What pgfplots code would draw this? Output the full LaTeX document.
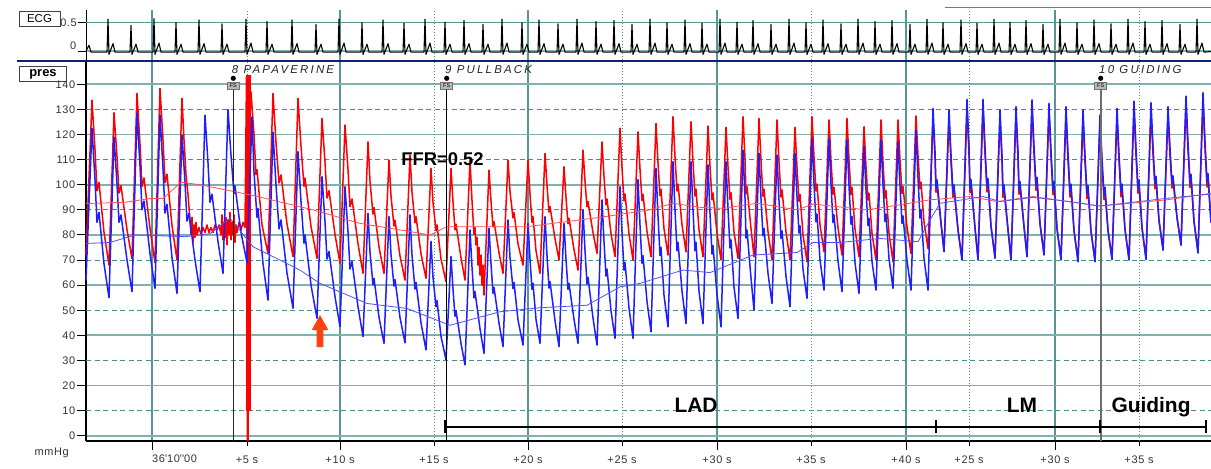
\documentclass[border=0pt]{standalone}
\usepackage{fontspec}
\setmainfont{Liberation Sans}
\newfontfamily\annfont{Liberation Sans}[LetterSpace=19]
\newfontfamily\tickfamily{Liberation Sans}[LetterSpace=6]
\usepackage{pgfplots}
\pgfplotsset{compat=1.18}

\definecolor{gridA}{RGB}{128,176,176}
\definecolor{gridB}{RGB}{72,142,142}
\definecolor{gridV}{RGB}{88,150,150}
\definecolor{paRed}{RGB}{255,0,0}
\definecolor{pdBlue}{RGB}{30,30,255}
\definecolor{meanRed}{RGB}{255,80,80}
\definecolor{meanBlue}{RGB}{80,80,255}
\definecolor{sep}{RGB}{16,32,120}
\definecolor{arrowc}{RGB}{255,64,16}
\definecolor{guide}{RGB}{110,110,110}

\newcommand{\tickfont}{\tickfamily\fontsize{11}{12}\selectfont}

\begin{document}
\begin{tikzpicture}
\useasboundingbox (0,0) rectangle (1211bp,-469bp);

% ---------------- ECG strip ----------------
\begin{axis}[
  at={(86bp,-60bp)}, anchor=south west, scale only axis,
  width=1125bp, height=50bp,
  xmin=86, xmax=1211, ymin=-0.159, ymax=0.724,
  axis lines*=left, x axis line style={draw=none},
  y axis line style={black, line width=1bp},
  clip=false, no markers,
  tick align=outside, major tick length=8bp,
  xtick={152,340,528,717,906,1055}, xticklabels={{},{},{},{},{},{}},
  extra x ticks={247,434,622,811,969,1139},
  extra x tick labels={{},{},{},{},{},{}},
  extra x tick style={grid=major,
    major x grid style={gridB, line width=1bp, dash pattern=on 1.4bp off 1.6bp}},
  xtick style={draw=none},
  ytick={0}, yticklabels={{}},
  extra y ticks={0.5}, extra y tick labels={{}},
  extra y tick style={grid=major, major y grid style={gridV, line width=1bp}},
  ytick style={black, line width=0.9bp},
  grid=major,
  major x grid style={gridV, line width=1.2bp},
  major y grid style={gridA, line width=1.7bp},
]
\addplot[black, line width=1.1bp, line join=round] coordinates {
(86,0.0) (89,0.1) (91,-0.02)
(107,-0.02) (108,0.56) (109,-0.06) (113,0.13) (115,-0.02)
(130,-0.02) (131,0.45) (132,-0.06) (136,0.12) (138,-0.02)
(153,-0.02) (154,0.57) (155,-0.06) (159,0.14) (161,-0.02)
(175,-0.02) (176,0.50) (177,-0.06) (181,0.12) (183,-0.02)
(198,-0.02) (199,0.55) (200,-0.06) (204,0.13) (206,-0.02)
(221,-0.02) (222,0.48) (223,-0.06) (227,0.12) (229,-0.02)
(245,-0.02) (246,0.56) (247,-0.06) (251,0.14) (253,-0.02)
(266,-0.02) (267,0.52) (268,-0.06) (272,0.12) (274,-0.02)
(291,-0.02) (292,0.55) (293,-0.06) (297,0.13) (299,-0.02)
(315,-0.02) (316,0.47) (317,-0.06) (321,0.12) (323,-0.02)
(338,-0.02) (339,0.56) (340,-0.06) (344,0.14) (346,-0.02)
(361,-0.02) (362,0.50) (363,-0.06) (367,0.12) (369,-0.02)
(382,-0.02) (383,0.55) (384,-0.06) (388,0.13) (390,-0.02)
(403,-0.02) (404,0.49) (405,-0.06) (409,0.12) (411,-0.02)
(424,-0.02) (425,0.56) (426,-0.06) (430,0.14) (432,-0.02)
(444,-0.02) (445,0.51) (446,-0.06) (450,0.12) (452,-0.02)
(463,-0.02) (464,0.54) (465,-0.06) (469,0.13) (471,-0.02)
(482,-0.02) (483,0.47) (484,-0.06) (488,0.12) (490,-0.02)
(501,-0.02) (502,0.56) (503,-0.06) (507,0.14) (509,-0.02)
(521,-0.02) (522,0.50) (523,-0.06) (527,0.12) (529,-0.02)
(538,-0.02) (539,0.55) (540,-0.06) (544,0.13) (546,-0.02)
(557,-0.02) (558,0.48) (559,-0.06) (563,0.12) (565,-0.02)
(576,-0.02) (577,0.56) (578,-0.06) (582,0.14) (584,-0.02)
(595,-0.02) (596,0.52) (597,-0.06) (601,0.12) (603,-0.02)
(613,-0.02) (614,0.54) (615,-0.06) (619,0.13) (621,-0.02)
(631,-0.02) (632,0.47) (633,-0.06) (637,0.12) (639,-0.02)
(649,-0.02) (650,0.56) (651,-0.06) (655,0.14) (657,-0.02)
(666,-0.02) (667,0.50) (668,-0.06) (672,0.12) (674,-0.02)
(684,-0.02) (685,0.55) (686,-0.06) (690,0.13) (692,-0.02)
(701,-0.02) (702,0.49) (703,-0.06) (707,0.12) (709,-0.02)
(719,-0.02) (720,0.56) (721,-0.06) (725,0.14) (727,-0.02)
(736,-0.02) (737,0.51) (738,-0.06) (742,0.12) (744,-0.02)
(752,-0.02) (753,0.54) (754,-0.06) (758,0.13) (760,-0.02)
(770,-0.02) (771,0.47) (772,-0.06) (776,0.12) (778,-0.02)
(788,-0.02) (789,0.56) (790,-0.06) (794,0.14) (796,-0.02)
(805,-0.02) (806,0.50) (807,-0.06) (811,0.12) (813,-0.02)
(822,-0.02) (823,0.55) (824,-0.06) (828,0.13) (830,-0.02)
(840,-0.02) (841,0.48) (842,-0.06) (846,0.12) (848,-0.02)
(857,-0.02) (858,0.56) (859,-0.06) (863,0.14) (865,-0.02)
(874,-0.02) (875,0.52) (876,-0.06) (880,0.12) (882,-0.02)
(891,-0.02) (892,0.54) (893,-0.06) (897,0.13) (899,-0.02)
(909,-0.02) (910,0.47) (911,-0.06) (915,0.12) (917,-0.02)
(926,-0.02) (927,0.56) (928,-0.06) (932,0.14) (934,-0.02)
(942,-0.02) (943,0.50) (944,-0.06) (948,0.12) (950,-0.02)
(960,-0.02) (961,0.55) (962,-0.06) (966,0.13) (968,-0.02)
(976,-0.02) (977,0.49) (978,-0.06) (982,0.12) (984,-0.02)
(993,-0.02) (994,0.56) (995,-0.06) (999,0.14) (1001,-0.02)
(1009,-0.02) (1010,0.51) (1011,-0.06) (1015,0.12) (1017,-0.02)
(1025,-0.02) (1026,0.54) (1027,-0.06) (1031,0.13) (1033,-0.02)
(1042,-0.02) (1043,0.47) (1044,-0.06) (1048,0.12) (1050,-0.02)
(1059,-0.02) (1060,0.56) (1061,-0.06) (1065,0.14) (1067,-0.02)
(1076,-0.02) (1077,0.50) (1078,-0.06) (1082,0.12) (1084,-0.02)
(1093,-0.02) (1094,0.55) (1095,-0.06) (1099,0.13) (1101,-0.02)
(1110,-0.02) (1111,0.48) (1112,-0.06) (1116,0.12) (1118,-0.02)
(1127,-0.02) (1128,0.56) (1129,-0.06) (1133,0.14) (1135,-0.02)
(1144,-0.02) (1145,0.52) (1146,-0.06) (1150,0.12) (1152,-0.02)
(1161,-0.02) (1162,0.54) (1163,-0.06) (1167,0.13) (1169,-0.02)
(1179,-0.02) (1180,0.47) (1181,-0.06) (1185,0.12) (1187,-0.02)
(1196,-0.02) (1197,0.56) (1198,-0.06) (1202,0.14) (1204,-0.02)
(1211,-0.01)};
\end{axis}

% ---------------- pressure strip ----------------
\begin{axis}[
  at={(86bp,-441bp)}, anchor=south west, scale only axis,
  width=1125bp, height=379bp,
  xmin=86, xmax=1211, ymin=-2.1, ymax=148.9,
  axis lines*=left, axis line style={black, line width=1.1bp},
  clip=false, no markers,
  tick align=outside, major tick length=9bp, tick style={black, line width=0.9bp},
  xtick={152,340,528,717,906,1055},
  xticklabels={{},{+10 s},{+20 s},{+30 s},{+40 s},{+30 s}},
  extra x ticks={247,434,622,811,969,1139},
  extra x tick labels={{+5 s},{+15 s},{+25 s},{+35 s},{+25 s},{+35 s}},
  extra x tick style={grid=major, major tick length=5bp,
    xticklabel style={yshift=-4bp},
    major x grid style={gridB, line width=1bp, dash pattern=on 1.4bp off 1.6bp}},
  ytick={0,20,...,140},
  extra y ticks={10,30,...,130},
  extra y tick style={grid=major,
    major y grid style={gridB, line width=0.9bp, dash pattern=on 5bp off 3.5bp}},
  grid=major,
  major x grid style={gridV, line width=1.2bp},
  major y grid style={gridA, line width=1.7bp},
  tick label style={font=\tickfont, text=black!80},
  /pgf/number format/assume math mode=true,
  xticklabel style={yshift=-2.7bp},
  yticklabel style={inner sep=1.5bp},
]
% aortic pressure (Pa), red
\addplot[paRed, line width=1.5bp, line join=round] coordinates {
(86,72) (92,133.7) (95,114) (97,97.6) (99,100.9) (104,81.1)
(109,68) (114,128.7) (117,111.2) (119,96.7) (121,99.6) (127,82.1)
(132,70.5) (137,136.4) (140,116.2) (142,99.3) (144,102.7) (150,82.5)
(155,69) (160,138.4) (163,117.9) (165,100.8) (167,104.2) (172,83.7)
(177,70) (182,134.4) (184,118) (186,104) (188,96) (190,86)
(191,80) (192,87) (193,77) (194,84) (195,79) (196,85) (197,80) (199,83) (201,80)
(203,83) (205,81) (207,84) (209,81) (211,83) (213,81) (215,84) (217,82) (219,84)
(221,80) (222,88) (223,78) (224,85) (225,79) (226,87) (227,76) (228,86) (229,80)
(230,89) (231,78) (232,85) (233,80) (234,88) (235,77) (236,84) (237,81) (239,85)
(241,82) (243,85) (245,83)
(246.5,143) (247.5,-2) (249,120) (251,137) (254,120) (256,104) (257,106) (262,84)
(268,72.7) (273,136.4) (276,116.9) (279,100.7) (281,103.9) (287,84.4)
(293,71.4) (298,134.4) (301,115.3) (304,99.4) (305,102.6) (311,83.4)
(317,70.7) (322,126.4) (325,109.1) (327,94.7) (329,97.6) (335,80.2)
(340,68.7) (345,123.8) (348,106.1) (350,91.3) (352,94.3) (358,76.5)
(363,64.7) (368,117.1) (370,101.4) (373,88.3) (374,90.9) (379,75.2)
(384,64.7) (389,109.8) (391,95.5) (394,83.5) (395,85.9) (400,71.6)
(405,62) (410,111.8) (412,97.1) (415,84.8) (416,87.3) (421,72.5)
(426,62.7) (431,106.5) (433,93) (436,81.7) (437,84) (441,70.4)
(446,61.4) (451,106.5) (453,93.2) (455,82) (456,84.3) (461,70.9)
(465,62) (470,109.8) (472,93.7) (474,80.2) (475,82.9) (476,76) (477,79) (478,68)
(479,75) (480,64) (481,72) (482,60) (483,68)
(484,56) (489,105.8) (491,93.5) (493,83.2) (494,85.3) (499,72.9)
(503,64.7) (508,109.8) (510,97.3) (513,86.8) (514,88.9) (518,76.4)
(523,68) (528,109.8) (530,96.3) (532,85) (533,87.3) (536,73.7)
(540,64.7) (545,112.5) (547,99.8) (549,89.1) (550,91.3) (555,78.5)
(559,70) (564,107.2) (566,94.8) (568,84.5) (569,86.6) (574,74.2)
(578,66) (583,113.8) (585,101.5) (587,91.2) (588,93.3) (593,80.9)
(597,72.7) (602,117.1) (604,103.4) (606,92) (607,94.3) (611,80.5)
(615,71.4) (620,122.5) (622,106.8) (624,93.6) (625,96.3) (629,80.5)
(633,70) (638,121.1) (640,106.2) (642,93.7) (643,96.2) (647,81.3)
(651,71.3) (656,124.4) (658,108.7) (660,95.6) (661,98.2) (664,82.5)
(668,72) (673,127.1) (675,111) (677,97.5) (678,100.2) (682,84.1)
(686,73.3) (691,125.1) (693,109) (695,95.5) (696,98.2) (699,82.1)
(703,71.3) (708,123.4) (710,107.4) (712,94) (713,96.7) (717,80.7)
(721,70) (726,122.9) (728,107.2) (730,94.2) (731,96.8) (734,81.1)
(738,70.7) (743,127.1) (745,110.4) (746,96.4) (747,99.2) (751,82.5)
(754,71.3) (759,126.4) (761,109.5) (763,95.4) (764,98.2) (768,81.3)
(772,70) (777,125.8) (779,109.1) (781,95.1) (782,97.9) (786,81.2)
(790,70) (795,122.9) (797,106.8) (799,93.4) (800,96.1) (803,80)
(807,69.3) (812,127.1) (814,111) (816,97.5) (817,100.2) (820,84.1)
(824,73.3) (829,125.8) (831,109.7) (833,96.2) (834,98.9) (838,82.8)
(842,72) (847,126.4) (849,109.9) (851,96.1) (852,98.9) (855,82.3)
(859,71.3) (864,123.1) (866,107.2) (868,93.9) (869,96.6) (872,80.6)
(876,70) (881,125.8) (883,108.9) (885,94.7) (886,97.6) (889,80.6)
(893,69.3) (898,125.8) (900,109.8) (902,96.5) (903,99.2) (907,83.2)
(911,72.6) (916,127.4) (918,111.6) (920,98.4) (921,101) (924,85.2)
(928,74.6) (933,126.4) (935,110.3) (936,97) (937,99.9) (941,84.7)
(944,73.8) (949,125.8) (951,108.9) (953,94.9) (954,97.9) (958,82)
(962,70.5) (967,130) (969,111.8) (970,96.8) (971,100) (975,82.8)
(978,70.5) (983,130) (985,112) (987,97.2) (988,100.4) (991,83.4)
(995,71.2) (1000,125.8) (1002,108.9) (1003,94.9) (1004,97.9) (1008,82)
(1011,70.5) (1016,127.1) (1018,110.2) (1019,96.2) (1020,99.2) (1024,83.3)
(1027,71.8) (1032,129.8) (1034,112.3) (1036,97.8) (1037,100.9) (1040,84.4)
(1044,72.5) (1049,128.4) (1051,110.7) (1053,96.1) (1054,99.2) (1057,82.5)
(1061,70.5) (1066,127.1) (1068,109.6) (1070,95.1) (1071,98.2) (1074,81.7)
(1078,69.8) (1083,125.8) (1085,108.7) (1087,94.5) (1088,97.6) (1091,81.4)
(1095,69.8) (1100,123.8) (1102,107.5) (1104,94.1) (1105,97) (1108,81.7)
(1112,70.7) (1117,126.4) (1119,109.3) (1121,95.2) (1122,98.2) (1125,82.1)
(1129,70.5) (1134,129.3) (1136,111.4) (1138,96.6) (1139,99.8) (1142,82.8)
(1146,70.7) (1151,128.7) (1153,112.1) (1155,98.4) (1156,101.3) (1159,85.7)
(1163,74.4) (1168,127.1) (1170,111.5) (1172,98.7) (1173,101.5) (1177,86.9)
(1181,76.4) (1186,131.3) (1188,113.6) (1190,98.9) (1191,102.1) (1194,85.3)
(1198,73.3) (1203,132.7) (1205,114.3) (1207,99.1) (1208,102.4) (1211,84.9)};
% papaverine injection artefact
\addplot[paRed, line width=4.5bp] coordinates {(248.5,10) (248.5,143.7)};
\addplot[paRed, line width=2.5bp] coordinates {(247.8,-2) (247.8,12)};
% distal pressure (Pd), blue
\addplot[pdBlue, line width=1.5bp, line join=round] coordinates {
(86,62) (92,122.5) (95,102) (97,85) (99,89) (104,68.5)
(109,55) (114,119) (117,100.5) (119,85) (121,88) (127,70)
(132,57.4) (137,128.4) (140,107.5) (142,90) (144,93.5) (150,72.5)
(155,58.7) (160,127.7) (163,106.4) (165,88.7) (167,92.2) (172,71)
(177,56.7) (182,119.8) (185,101) (187,85.5) (189,88.6) (195,70)
(200,57.4) (205,127.7) (208,108.8) (210,93) (212,96.2) (218,77.3)
(223,64.7) (228,130) (231,111.7) (234,96.5) (235,99.5) (241,81)
(247,69) (252,127) (254,105) (257,87) (258,90.5) (263,68.6)
(268,54) (273,121) (276,100) (279,82.4) (281,86) (287,64.8)
(293,50.8) (298,113.2) (301,93.3) (304,76.7) (305,80) (311,60)
(317,46.8) (322,103.2) (325,85.3) (327,70.4) (329,73.4) (335,55.4)
(340,43.5) (345,99.2) (348,81.3) (350,66.4) (352,69.4) (358,51.4)
(363,39.5) (368,88.6) (370,73.1) (373,60.1) (374,62.7) (379,47.2)
(384,36.8) (389,87.3) (391,72.2) (394,59.6) (395,62.2) (400,47.1)
(405,37) (410,88) (412,71.9) (415,58.4) (416,61.1) (421,45)
(426,34.2) (431,77.4) (433,63.2) (436,51.4) (437,53.8) (441,39.6)
(446,30.2) (451,71.4) (453,58.4) (455,47.6) (456,49.8) (461,36.8)
(465,28.2) (470,82) (472,67.2) (474,54.9) (475,57.4) (480,42.6)
(484,32.8) (489,82.7) (491,68.5) (493,56.7) (494,59.1) (499,44.9)
(503,35.5) (508,86) (510,71) (513,58.6) (514,61.1) (518,46.1)
(523,36.1) (528,84.6) (530,70.3) (532,58.3) (533,60.7) (536,46.4)
(540,36.8) (545,87.3) (547,71.8) (549,58.8) (550,61.4) (555,45.9)
(559,35.5) (564,84.6) (566,70.3) (568,58.3) (569,60.7) (574,46.4)
(578,36.8) (583,90) (585,73.8) (587,60.4) (588,63.1) (593,46.9)
(597,36.1) (602,94) (604,77.4) (606,63.6) (607,66.4) (611,49.8)
(615,38.8) (620,99.2) (622,81.1) (624,66) (625,69) (629,50.9)
(633,38.8) (638,102) (640,83.8) (642,68.7) (643,71.7) (647,53.5)
(651,41.4) (656,106.5) (658,87.6) (660,71.8) (661,75) (664,56)
(668,43.4) (673,109.2) (675,89.9) (677,73.7) (678,77) (682,57.6)
(686,44.7) (691,109.2) (693,89.9) (695,73.7) (696,77) (699,57.6)
(703,44.7) (708,107.9) (710,88.6) (712,72.4) (713,75.7) (717,56.3)
(721,43.4) (726,109.2) (728,90.5) (730,74.8) (731,78) (734,59.2)
(738,46.7) (743,113.8) (745,94.7) (746,78.7) (747,81.9) (751,62.8)
(754,50) (759,112.5) (761,94.6) (763,79.6) (764,82.6) (768,64.7)
(772,52.7) (777,111.8) (779,93.7) (781,78.6) (782,81.6) (786,63.5)
(790,51.4) (795,112.5) (797,95.2) (799,80.7) (800,83.6) (803,66.3)
(807,54.7) (812,118.5) (814,100.4) (816,85.2) (817,88.3) (820,70.1)
(824,58) (829,118.5) (831,100.2) (833,84.9) (834,88) (838,69.6)
(842,57.4) (847,117.8) (849,99.5) (851,84.2) (852,87.3) (855,68.9)
(859,56.7) (864,115.2) (866,98) (868,83.7) (869,86.6) (872,69.4)
(876,58) (881,117.8) (883,100.1) (885,85.3) (886,88.3) (889,70.5)
(893,58.7) (898,117.1) (900,99.4) (902,84.6) (903,87.6) (907,69.8)
(911,58) (916,121.8) (918,102.7) (920,86.7) (921,89.9) (924,70.8)
(928,58) (933,130.4) (935,113.3) (936,99) (937,101.9) (941,84.7)
(944,73.3) (949,129.8) (951,111.9) (953,96.9) (954,99.9) (958,82)
(962,70) (967,134) (969,114.8) (970,98.8) (971,102) (975,82.8)
(978,70) (983,134) (985,115) (987,99.2) (988,102.4) (991,83.4)
(995,70.7) (1000,129.8) (1002,111.9) (1003,96.9) (1004,99.9) (1008,82)
(1011,70) (1016,131.1) (1018,113.2) (1019,98.2) (1020,101.2) (1024,83.3)
(1027,71.3) (1032,133.8) (1034,115.3) (1036,99.8) (1037,102.9) (1040,84.4)
(1044,72) (1049,132.4) (1051,113.7) (1053,98.1) (1054,101.2) (1057,82.5)
(1061,70) (1066,131.1) (1068,112.6) (1070,97.1) (1071,100.2) (1074,81.7)
(1078,69.3) (1083,129.8) (1085,111.7) (1087,96.5) (1088,99.6) (1091,81.4)
(1095,69.3) (1100,127.8) (1102,110.5) (1104,96.1) (1105,99) (1108,81.7)
(1112,70.2) (1117,130.4) (1119,112.3) (1121,97.2) (1122,100.2) (1125,82.1)
(1129,70) (1134,133.3) (1136,114.4) (1138,98.6) (1139,101.8) (1142,82.8)
(1146,70.2) (1151,132.7) (1153,115.1) (1155,100.4) (1156,103.3) (1159,85.7)
(1163,73.9) (1168,131.1) (1170,114.5) (1172,100.7) (1173,103.5) (1177,86.9)
(1181,75.9) (1186,135.3) (1188,116.6) (1190,100.9) (1191,104.1) (1194,85.3)
(1198,72.8) (1203,136.7) (1205,117.3) (1207,101.1) (1208,104.4) (1211,84.9)};
% mean pressures
\addplot[meanRed, line width=0.8bp] coordinates {
(86,92.5) (125,93) (150,94.5) (163,94.5) (181,101) (200,100) (250,96) (313,90)
(360,84.6) (400,82) (430,80) (447,83.3) (527,83.3) (600,87) (650,90) (673,92.6)
(700,91) (723,90.6) (757,92.6) (797,90) (813,92.3) (867,90) (900,92) (930,94)
(970,95.3) (997,93.3) (1033,95.3) (1065,93.5) (1100,91.5) (1140,93) (1167,94) (1211,96.6)};
\addplot[meanBlue, line width=0.8bp] coordinates {
(86,76.6) (110,77) (135,80) (185,79.3) (210,80.5) (230,86.6) (253,75.3) (300,66)
(320,60.7) (367,52.7) (407,50.7) (450,44) (500,49.4) (540,51) (587,52) (620,59.3)
(640,60.7) (683,66) (710,65) (753,72) (797,73) (813,77) (840,77) (880,78.6)
(918,77.3) (930,86) (940,92.6) (983,95.3) (1000,93.3) (1033,95) (1065,93.5)
(1100,91.5) (1167,94.6) (1211,96.3)};

% event markers
\draw[black!85, line width=1.3bp] (axis cs:233.3,138.1) -- (axis cs:233.3,-2.1);
\draw[black, line width=1.3bp] (axis cs:446.7,138.1) -- (axis cs:446.7,-2.1);
\draw[guide, line width=2.2bp] (axis cs:1100.7,138.1) -- (axis cs:1100.7,-2.1);
\foreach \xx in {233.3,446.7,1100.7}{
  \edef\temp{\noexpand\node[fill=black!28, draw=black!55, line width=0.5bp,
    minimum width=12bp, minimum height=7.5bp, inner sep=0pt,
    font=\noexpand\fontsize{5.5}{5.5}\noexpand\selectfont] at (axis cs:\xx,139.5) {FS};
    \noexpand\fill[black] (axis cs:\xx,142.4) circle[radius=2.6bp];}
  \temp
}
\node[anchor=base west, inner sep=0pt, text=black!85,
  font=\annfont\itshape\fontsize{11.5}{12}\selectfont] at (axis cs:231.7,144.4) {8 PAPAVERINE};
\node[anchor=base west, inner sep=0pt, text=black!85,
  font=\annfont\itshape\fontsize{11.5}{12}\selectfont] at (axis cs:445,144.4) {9 PULLBACK};
\node[anchor=base west, inner sep=0pt, text=black!85,
  font=\annfont\itshape\fontsize{11.5}{12}\selectfont] at (axis cs:1099,144.4) {10 GUIDING};

\node[font=\bfseries\fontsize{18.5}{20}\selectfont, inner sep=0pt] at (axis cs:442.5,110.2) {FFR=0.52};

% arrow
\fill[arrowc] (axis cs:320,48.1) -- (axis cs:328.3,42.1) -- (axis cs:323.3,42.1)
  -- (axis cs:323.3,35.3) -- (axis cs:316.7,35.3) -- (axis cs:316.7,42.1)
  -- (axis cs:311.7,42.1) -- cycle;

% segment bracket
\draw[black, line width=1.8bp] (axis cs:445,3.6) -- (axis cs:1206,3.6);
\draw[black, line width=2.8bp] (axis cs:445,6.1) -- (axis cs:445,0.9);
\foreach \xx in {936,1100,1206}{
  \edef\temp{\noexpand\draw[black, line width=1.8bp] (axis cs:\xx,6.1) -- (axis cs:\xx,0.9);}
  \temp
}
\node[anchor=base, inner sep=0pt, font=\bfseries\fontsize{21}{22}\selectfont] at (axis cs:696,9.2) {LAD};
\node[anchor=base, inner sep=0pt, font=\bfseries\fontsize{21}{22}\selectfont] at (axis cs:1022,9.2) {LM};
\node[anchor=base, inner sep=0pt, font=\bfseries\fontsize{21}{22}\selectfont] at (axis cs:1151,9.2) {Guiding};
\end{axis}

% ---------------- frame items ----------------
\draw[sep, line width=2.2bp] (17bp,-61bp) -- (1211bp,-61bp);
\draw[gridB, line width=0.8bp] (945bp,-7.3bp) -- (1211bp,-7.3bp);
\node[draw=black!75, line width=0.8bp, minimum width=41bp, minimum height=14.5bp, inner sep=0pt,
  font=\fontsize{11.5}{12}\selectfont] at (39.5bp,-19bp) {ECG};
\node[draw=black!75, line width=0.9bp, minimum width=47bp, minimum height=15bp, inner sep=0pt,
  font=\bfseries\fontsize{13}{14}\selectfont] at (43bp,-74.2bp) {pres};
\node[anchor=east, inner sep=0pt, font=\tickfont, text=black!80] at (77bp,-22.7bp) {0.5};
\node[anchor=east, inner sep=0pt, font=\tickfont, text=black!80] at (76.5bp,-46bp) {0};
\node[font=\tickfont, text=black!80] at (51.7bp,-453bp) {mmHg};
\node[anchor=west, inner sep=0pt, font=\tickfont, text=black!80] at (152bp,-458.7bp)
  {36\textquotesingle10\textquotesingle\textquotesingle00};
\end{tikzpicture}
\end{document}
